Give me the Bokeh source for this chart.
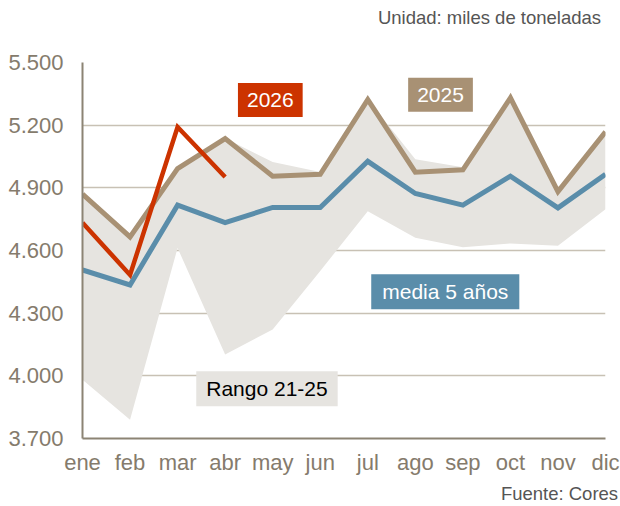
from bokeh.plotting import figure
from bokeh.models import FixedTicker, Label, ColumnDataSource, LinearAxis, Range1d
from bokeh.embed import file_html
from bokeh.resources import INLINE

months = ["ene", "feb", "mar", "abr", "may", "jun", "jul", "ago", "sep", "oct", "nov", "dic"]
y2025 = [4870, 4665, 4992, 5136, 4956, 4965, 5322, 4975, 4986, 5331, 4882, 5168]
y2026 = [4733, 4483, 5191, 4952]
media5 = [4507, 4435, 4817, 4733, 4806, 4806, 5027, 4873, 4817, 4956, 4804, 4965]
rango_max = [4875, 4665, 4995, 5137, 5024, 4976, 5323, 5037, 4998, 5331, 4882, 5168]
rango_min = [3981, 3790, 4612, 4102, 4222, 4502, 4788, 4661, 4615, 4634, 4623, 4797]
y_ticks = [3700, 4000, 4300, 4600, 4900, 5200, 5500]
y_tick_labels = ["3.700", "4.000", "4.300", "4.600", "4.900", "5.200", "5.500"]
note_top = "Unidad: miles de toneladas"
note_bottom = "Fuente: Cores"

FONT = "Liberation Sans"
C_2025 = "#A89174"
C_2026 = "#CC3300"
C_MEDIA = "#5A8DAA"
C_BAND = "#E6E4E0"
C_GRID = "#C8C1B4"
C_AXIS = "#8C8474"
C_TICK = "#857B6C"
C_NOTE = "#555555"

xs = list(range(len(months)))

p = figure(width=620, height=506, x_range=(0, 11), y_range=(3700, 5500),
           output_backend="svg", toolbar_location=None,
           min_border_left=82, min_border_right=15, min_border_top=62, min_border_bottom=67)
p.outline_line_color = None
p.background_fill_color = "white"

band = ColumnDataSource(dict(x=xs, lo=rango_min, hi=rango_max))
p.varea(x="x", y1="lo", y2="hi", source=band, fill_color=C_BAND)

p.line(xs, y2025, line_color=C_2025, line_width=5, line_join="miter")
p.line(xs, media5, line_color=C_MEDIA, line_width=5, line_join="miter")
p.line(xs[:len(y2026)], y2026, line_color=C_2026, line_width=4.5, line_join="miter")

# axes
p.xaxis.ticker = FixedTicker(ticks=xs)
p.xaxis.major_label_overrides = {i: m for i, m in enumerate(months)}
p.yaxis.ticker = FixedTicker(ticks=y_ticks)
p.yaxis.major_label_overrides = {t: l for t, l in zip(y_ticks, y_tick_labels)}
for ax in (p.xaxis[0], p.yaxis[0]):
    ax.axis_line_color = C_AXIS
    ax.axis_line_width = 2
    ax.major_tick_line_color = None
    ax.minor_tick_line_color = None
    ax.major_tick_out = 0
    ax.major_tick_in = 0
    ax.major_label_text_font = FONT
    ax.major_label_text_font_size = "22px"
    ax.major_label_text_color = C_TICK
p.xaxis.major_label_standoff = 11
p.yaxis.major_label_standoff = 19

p.xgrid.grid_line_color = None
p.ygrid.grid_line_color = C_GRID
p.ygrid.grid_line_width = 1.5

# series labels
def box(x, y, text, bg, fg, px, py):
    p.add_layout(Label(x=x, y=y, text=text, text_align="center", text_baseline="middle",
                       text_font=FONT, text_font_size="21px", text_color=fg,
                       background_fill_color=bg,
                       padding=dict(left=px, right=px, top=py, bottom=py)))

box(3.95, 5321, "2026", C_2026, "white", 9, 10)
box(7.53, 5346, "2025", C_2025, "white", 9, 10)
box(7.63, 4403, "media 5 años", C_MEDIA, "white", 11, 6)
box(3.88, 3938, "Rango 21-25", C_BAND, "black", 10, 6)

# header / footer notes as tick-less axes on a pixel-like helper range
p.extra_x_ranges = {"page": Range1d(82, 605)}

def note_axis(text, pos, standoff, side):
    ax = LinearAxis(x_range_name="page", ticker=FixedTicker(ticks=[pos]),
                    major_label_overrides={pos: text},
                    axis_line_color=None, major_tick_line_color=None,
                    minor_tick_line_color=None, major_tick_out=0, major_tick_in=0,
                    major_label_standoff=standoff, major_label_text_font=FONT,
                    major_label_text_font_size="18.5px", major_label_text_color=C_NOTE)
    p.add_layout(ax, side)

note_axis(note_top, 489, 35, "above")
note_axis(note_bottom, 559, 5, "below")

open("out.html", "w").write(file_html(p, INLINE))
